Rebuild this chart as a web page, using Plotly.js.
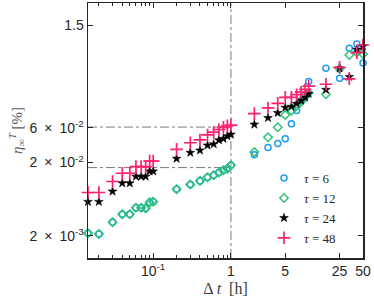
<!DOCTYPE html>
<html>
<head>
<meta charset="utf-8">
<script src="https://cdn.plot.ly/plotly-3.0.1.min.js"></script>
<style>html,body{margin:0;padding:0;background:#fff;}#chart{width:374px;height:305px;}</style>
</head>
<body>
<div id="chart"></div>
<script>
// Δt [h]
const dt = [0.0145, 0.02, 0.03, 0.04, 0.05, 0.06, 0.07, 0.08, 0.09, 0.1,
            0.2, 0.3, 0.4, 0.5, 0.6, 0.7, 0.8, 0.9, 1.0,
            2, 3, 4, 5, 6, 7, 8, 9, 10,
            16.67, 25, 33.33, 41.67, 50];

const tau6 = [2.18e-3, 2.13e-3, 3.07e-3, 3.94e-3, 3.94e-3, 4.84e-3, 4.84e-3, 4.75e-3, 5.73e-3, 5.84e-3,
              8.68e-3, 1.005e-2, 1.125e-2, 1.262e-2, 1.343e-2, 1.462e-2, 1.571e-2, 1.656e-2, 1.836e-2,
              2.55e-2, 3.22e-2, 3.65e-2, 4.225e-2, 6.75e-2, 0.1023, 0.14, 0.16, 0.2553,
              0.3855, 0.2821, 0.7244, 0.8287, 0.4578];

const tau12 = [2.18e-3, 2.13e-3, 3.07e-3, 3.94e-3, 3.94e-3, 4.84e-3, 4.84e-3, 4.75e-3, 5.73e-3, 5.84e-3,
               8.68e-3, 1.005e-2, 1.125e-2, 1.262e-2, 1.343e-2, 1.462e-2, 1.571e-2, 1.656e-2, 1.836e-2,
               2.78e-2, 4.44e-2, 6.07e-2, 8.89e-2, 0.1023, 0.1184, 0.1367, 0.1569, 0.1777,
               0.1712, 0.3797, 0.5875, 0.6353, 0.6064];

const tau24 = [5.84e-3, 5.84e-3, 8.08e-3, 1.047e-2, 1.047e-2, 1.29e-2, 1.29e-2, 1.29e-2, 1.522e-2, 1.522e-2,
               2.263e-2, 2.73e-2, 2.934e-2, 3.43e-2, 3.57e-2, 4.045e-2, 4.225e-2, 4.58e-2, 4.83e-2,
               0.0661, 0.0814, 0.0952, 0.1123, 0.1159, 0.1272, 0.1397, 0.1544, 0.1739,
               0.197, 0.3855, 0.2956, 0.6978, 0.7666];

const tau48 = [7.82e-3, 7.82e-3, 1.104e-2, 1.43e-2, 1.43e-2, 1.763e-2, 1.763e-2, 1.763e-2, 2.10e-2, 2.10e-2,
               3.026e-2, 3.73e-2, 4.07e-2, 4.76e-2, 5.19e-2, 5.65e-2, 6.05e-2, 6.34e-2, 6.50e-2,
               9.31e-2, 0.1112, 0.1284, 0.1549, 0.1549, 0.1685, 0.1822, 0.1988, 0.2212,
               0.2339, 0.3977, 0.2778, 0.6314, 0.8029];

const seriesNames = ['<i>τ</i> = 6', '<i>τ</i> = 12', '<i>τ</i> = 24', '<i>τ</i> = 48'];

// reference lines
const refTime = 1;
const refLevels = [0.0171, 0.061];
const xMin = 0.0145, xMax = 50;
const yMin = 1e-3, yMax = 3;

const xTickVals = [0.1, 1, 5, 25, 50];
const xTickText = ['10<sup>-1</sup>', '1', '5', '25', '50'];
const xMinorVals = [0.02,0.03,0.04,0.05,0.06,0.07,0.08,0.09,0.2,0.3,0.4,0.5,0.6,0.7,0.8,0.9];
const yTickVals = [0.002, 0.02, 0.06, 1.5];
const yTickText = ['2\u2002×\u200210<sup>-3</sup>', '2\u2002×\u200210<sup>-2</sup>', '6\u2002×\u200210<sup>-2</sup>', '1.5'];

const refColor = '#7a7a7a';
const traces = [];
refLevels.forEach(v => traces.push({
  x: [xMin, refTime], y: [v, v], mode: 'lines', showlegend: false, hoverinfo: 'skip',
  line: {color: refColor, width: 1, dash: 'dashdot'}
}));
traces.push({
  x: [refTime, refTime], y: [yMin, yMax], mode: 'lines', showlegend: false, hoverinfo: 'skip',
  line: {color: refColor, width: 1, dash: 'dashdot'}
});

traces.push({x: dt, y: tau6, name: seriesNames[0], mode: 'markers', cliponaxis: false,
  marker: {symbol: 'circle-open', size: 6, color: '#1f9cf0', line: {width: 1.5, color: '#1f9cf0'}}});
traces.push({x: dt, y: tau12, name: seriesNames[1], mode: 'markers', cliponaxis: false,
  marker: {symbol: 'diamond-open', size: 6.5, color: '#2ec27a', line: {width: 1.5, color: '#2ec27a'}}});
traces.push({x: dt, y: tau24, name: seriesNames[2], mode: 'markers', cliponaxis: false,
  marker: {symbol: 'star', size: 6.5, color: '#000000', line: {width: 0.6, color: '#000000'}}});
traces.push({x: dt, y: tau48, name: seriesNames[3], mode: 'markers', cliponaxis: false,
  marker: {symbol: 'cross-thin-open', size: 9, color: '#ff1f70', line: {width: 1.7, color: '#ff1f70'}}});

const axisCommon = {
  type: 'log', showgrid: false, zeroline: false, showline: true, linecolor: '#262626', linewidth: 1.5,
  mirror: 'ticks', ticks: 'inside', ticklen: 5, tickwidth: 1, tickcolor: '#262626',
  tickfont: {family: 'Liberation Sans, Arial, sans-serif', size: 14, color: '#262626'}
};

const layout = {
  width: 374, height: 305,
  margin: {l: 88, r: 11, t: 3, b: 47},
  paper_bgcolor: '#ffffff', plot_bgcolor: '#ffffff',
  showlegend: true,
  legend: {x: 0.64, y: 0.372, xanchor: 'left', yanchor: 'top', bgcolor: 'rgba(0,0,0,0)',
           font: {family: 'Liberation Serif, serif', size: 13, color: '#262626'}, tracegroupgap: 0},
  xaxis: Object.assign({}, axisCommon, {
    range: [Math.log10(xMin), Math.log10(xMax)],
    tickmode: 'array', tickvals: xTickVals, ticktext: xTickText,
    minor: {tickmode: 'array', tickvals: xMinorVals, ticks: 'inside', ticklen: 3, tickcolor: '#262626', showgrid: false},
    title: {text: 'Δ <i>t</i>  [h]', font: {family: 'Liberation Serif, serif', size: 16, color: '#404040'}, standoff: 4}
  }),
  yaxis: Object.assign({}, axisCommon, {
    range: [Math.log10(yMin), Math.log10(yMax)],
    tickmode: 'array', tickvals: yTickVals, ticktext: yTickText,
    title: {text: '<i>η</i><sub>∞</sub><sup><i>T</i></sup> [%]', font: {family: 'Liberation Serif, serif', size: 15, color: '#606060'}, standoff: 3}
  })
};

Plotly.newPlot('chart', traces, layout, {displayModeBar: false, staticPlot: true});
</script>
</body>
</html>
